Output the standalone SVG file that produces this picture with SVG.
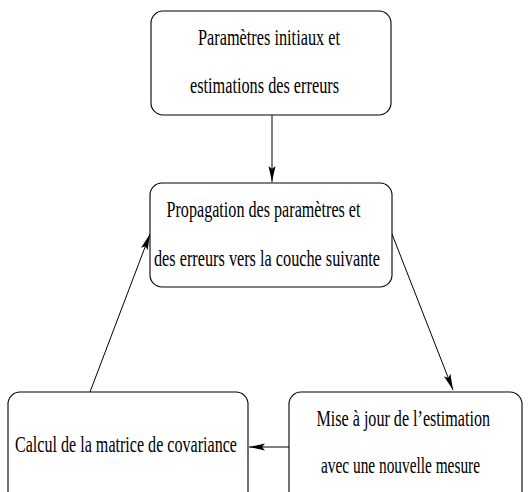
<svg xmlns="http://www.w3.org/2000/svg" width="528" height="492" viewBox="0 0 528 492">
<style>
.box{fill:#fff;stroke:#000;stroke-width:1.1}
.t{font-family:"Liberation Serif","Times New Roman",serif;font-size:24px;fill:#000}
.c{stroke:#000;stroke-width:1;fill:none;marker-end:url(#ah)}
</style>
<defs>
<marker id="ah" markerUnits="userSpaceOnUse" markerWidth="18" markerHeight="8" refX="16" refY="3.5" orient="auto">
<path d="M0,0 L16,3.5 L0,7 L3,3.5 z" fill="#000"/>
</marker>
</defs>
<rect width="528" height="492" fill="#fff"/>
<g id="connectors">
<line class="c" x1="272" y1="115" x2="272" y2="182"/>
<line class="c" x1="90" y1="392" x2="150" y2="234"/>
<line class="c" x1="392" y1="234" x2="453" y2="390"/>
<line class="c" x1="289" y1="447" x2="249" y2="447"/>
</g>
<g id="n1">
<rect class="box" x="151" y="11" width="240" height="104" rx="12"/>
<text class="t" x="198" y="44.5" textLength="142" lengthAdjust="spacingAndGlyphs">Paramètres initiaux et</text>
<text class="t" x="190" y="92.5" textLength="149" lengthAdjust="spacingAndGlyphs">estimations des erreurs</text>
</g>
<g id="n2">
<rect class="box" x="150" y="183" width="242" height="104" rx="12"/>
<text class="t" x="166.5" y="216.5" textLength="194" lengthAdjust="spacingAndGlyphs">Propagation des paramètres et</text>
<text class="t" x="154" y="265.5" textLength="226" lengthAdjust="spacingAndGlyphs">des erreurs vers la couche suivante</text>
</g>
<g id="n3">
<rect class="box" x="8" y="392" width="240" height="120" rx="12"/>
<text class="t" x="15" y="451.5" textLength="222" lengthAdjust="spacingAndGlyphs">Calcul de la matrice de covariance</text>
</g>
<g id="n4">
<rect class="box" x="289" y="392" width="233" height="120" rx="12"/>
<text class="t" x="316.5" y="425.5" textLength="173.5" lengthAdjust="spacingAndGlyphs">Mise à jour de l’estimation</text>
<text class="t" x="321" y="473" textLength="159" lengthAdjust="spacingAndGlyphs">avec une nouvelle mesure</text>
</g>
</svg>
